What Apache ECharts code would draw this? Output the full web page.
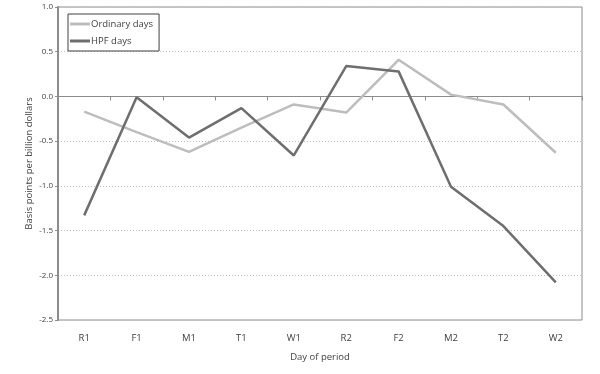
<!DOCTYPE html>
<html><head><meta charset="utf-8">
<script src="https://cdn.jsdelivr.net/npm/echarts@6/dist/echarts.min.js"></script>
<style>html,body{margin:0;padding:0;background:#fff}#c{width:600px;height:374px}</style>
</head><body><div id="c"></div>
<script>
var categories = ['R1','F1','M1','T1','W1','R2','F2','M2','T2','W2'];
var ordinaryDays = [-0.17, -0.40, -0.62, -0.35, -0.09, -0.18, 0.41, 0.02, -0.09, -0.63];
var hpfDays = [-1.33, -0.01, -0.46, -0.13, -0.66, 0.34, 0.28, -1.01, -1.45, -2.08];
var yTicks = {min: -2.5, max: 1.0, interval: 0.5};

var font = 'Open Sans';
var chart = echarts.init(document.getElementById('c'), null, {renderer: 'canvas'});
chart.setOption({
  animation: false,
  backgroundColor: '#fff',
  textStyle: {fontFamily: font},
  grid: {left: 58, right: 18, top: 7, bottom: 54, show: true, borderColor: '#8c8c8c', borderWidth: 1},
  legend: {
    left: 68, top: 14, orient: 'vertical', padding: [5, 6, 5, 2],
    borderColor: '#404040', borderWidth: 1, itemGap: 7,
    itemWidth: 20, itemHeight: 3, icon: 'rect',
    textStyle: {fontFamily: font, fontSize: 9.5, color: '#404040', padding: [0, 0, 0, -4]},
    data: ['Ordinary days', 'HPF days']
  },
  xAxis: [{
    type: 'category', data: categories, position: 'bottom',
    axisLine: {onZero: false, show: false}, axisTick: {show: false},
    axisLabel: {fontSize: 9.5, color: '#404040', margin: 13},
    name: 'Day of period', nameLocation: 'middle', nameGap: 32,
    nameTextStyle: {fontSize: 9.5, color: '#404040'}
  }, {
    type: 'category', data: categories, position: 'top',
    axisLine: {onZero: true, show: true, lineStyle: {color: '#8c8c8c', width: 1}},
    axisTick: {show: true, inside: true, length: 4, lineStyle: {color: '#8c8c8c'}},
    axisLabel: {show: false}
  }],
  yAxis: {
    type: 'value', min: yTicks.min, max: yTicks.max, interval: yTicks.interval,
    axisLine: {show: true, onZero: false, lineStyle: {color: '#8c8c8c', width: 2}},
    axisTick: {show: true, length: 3, lineStyle: {color: '#8c8c8c'}},
    axisLabel: {fontSize: 8, color: '#404040', margin: 5, formatter: function(v){return v.toFixed(1);}},
    splitLine: {show: true, lineStyle: {color: '#bfbfbf', type: [1, 2], width: 1}},
    name: 'Basis points per billion dollars', nameLocation: 'middle', nameGap: 24,
    nameMoveOverlap: false,
    nameTextStyle: {fontSize: 9.5, color: '#404040'}
  },
  series: [{
    name: 'Ordinary days', type: 'line', data: ordinaryDays, symbol: 'none',
    lineStyle: {color: '#bdbdbd', width: 2.5}, itemStyle: {color: '#bdbdbd'}, z: 2
  }, {
    name: 'HPF days', type: 'line', data: hpfDays, symbol: 'none',
    lineStyle: {color: '#6e6e6e', width: 2.5}, itemStyle: {color: '#6e6e6e'}, z: 3
  }]
});
</script></body></html>
